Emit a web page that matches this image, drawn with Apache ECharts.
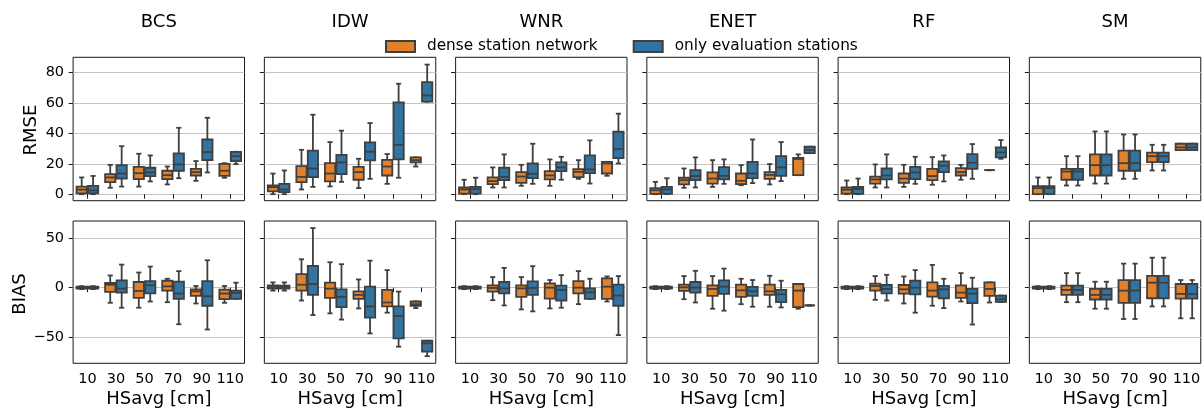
<!DOCTYPE html>
<html>
<head>
<meta charset="utf-8">
<script src="https://cdn.jsdelivr.net/npm/echarts@6/dist/echarts.min.js"></script>
<style>
  html, body { margin: 0; padding: 0; background: #fff; }
  #chart { width: 1202px; height: 410px; }
</style>
</head>
<body>
<div id="chart"></div>
<script>
// Snow-depth classes (HSavg, cm) and interpolation methods
const HS_CLASSES = ['10', '30', '50', '70', '90', '110'];
const METHODS = ['BCS', 'IDW', 'WNR', 'ENET', 'RF', 'SM'];
const RMSE_TICKS = [0, 20, 40, 60, 80];
const BIAS_TICKS = [-50, 0, 50];
const NAME_DENSE = 'dense station network';
const NAME_EVAL = 'only evaluation stations';

// Box statistics per class: [lower whisker, Q1, median, Q3, upper whisker]
const BCS_RMSE_DENSE = [[0, 0.5, 3, 5, 11], [4.2, 7.9, 11, 13.2, 19.3], [5, 9.9, 13.8, 18, 26.6], [6.4, 9.9, 12.5, 15.4, 18.2], [8.8, 12.3, 14.5, 16.7, 21.8], [10.8, 12.1, 15.4, 20, 20.4]];
const BCS_RMSE_EVAL = [[0, 0.5, 2.5, 5.5, 12], [5, 10.3, 13.6, 19.1, 31.6], [8.4, 11.9, 14.3, 17.4, 25.5], [10.5, 15.4, 19.6, 26.8, 43.7], [14.3, 22.4, 27.7, 36, 50.3], [19.8, 21.8, 25, 27.9, 27.9]];
const IDW_RMSE_DENSE = [[0, 1.8, 4.6, 5.7, 13.6], [3.1, 7.9, 11.4, 18.5, 29.2], [5.1, 8.4, 13.6, 20.4, 34.3], [4, 9.5, 14.5, 18, 23.3], [6.8, 12.3, 18.2, 22.6, 26.4], [18.2, 20.9, 22.4, 24.2, 24.2]];
const IDW_RMSE_EVAL = [[0, 1.3, 3.1, 6.8, 15.6], [4.8, 11.2, 16.9, 28.6, 52.3], [8.1, 13.2, 20.9, 25.9, 41.8], [10.1, 22.2, 27.9, 34.1, 46.8], [10.8, 22.9, 32.5, 60.4, 72.7], [60.9, 60.9, 65, 73.8, 85.3]];
const WNR_RMSE_DENSE = [[0, 0.4, 3.1, 4.4, 9.5], [4.4, 6.6, 8.6, 11, 17.6], [5.5, 7.5, 11.6, 14.5, 19.3], [5.5, 9.7, 12.3, 15.2, 22.9], [10.1, 11.2, 14.7, 16.5, 22.4], [12.1, 13.6, 20.2, 21.3, 21.3]];
const WNR_RMSE_EVAL = [[0, 0.4, 3.3, 4.8, 10.8], [4.4, 9.2, 11.4, 17.4, 26.2], [6.8, 10.5, 13.4, 20.2, 33.2], [9.5, 15.2, 17.6, 20.9, 24.6], [7, 13.8, 16.3, 25.5, 35.4], [20.2, 23.7, 29.7, 41.1, 53]];
const ENET_RMSE_DENSE = [[0, 0.2, 2.6, 4, 8.1], [4.2, 6.4, 9.2, 10.8, 16.9], [4.8, 7, 10.3, 14.3, 22.4], [5.9, 6.6, 8.8, 13.6, 19.1], [6.4, 10.1, 12.7, 14.5, 19.8], [12.5, 12.5, 23.2, 23.8, 26.2]];
const ENET_RMSE_EVAL = [[0, 0.2, 3.1, 4.8, 10.5], [4.4, 9.2, 11.9, 15.8, 24.2], [6.8, 9.7, 12.1, 17.8, 22.9], [7.3, 10.5, 13.6, 21.3, 36], [8.6, 12.1, 17.6, 25, 34.3], [27, 27, 29, 31.2, 31.2]];
const RF_RMSE_DENSE = [[0, 0.4, 2.9, 4.4, 9], [4.4, 7, 9.7, 11.6, 19.6], [4.8, 7.5, 10.3, 13.6, 19.3], [6.2, 9.2, 11.9, 16.7, 24.4], [9.5, 12.3, 14.5, 17.1, 19.3], [15.8, 15.8, 15.8, 15.8, 15.8]];
const RF_RMSE_EVAL = [[0, 0.2, 3.5, 4.8, 10.3], [4.4, 9.7, 12.3, 16.9, 26.2], [6.8, 9.9, 14.3, 18, 24.6], [8.4, 14.5, 18.7, 21.5, 25.5], [10.1, 16.7, 20.7, 26.4, 33], [23.3, 24.2, 27.5, 30.8, 35.6]];
const SM_RMSE_DENSE = [[0, 0, 4, 5.3, 11], [5.7, 9.5, 14.9, 16.7, 25], [7, 12.3, 19.1, 26.2, 41.3], [10.1, 15.4, 20.4, 28.6, 39.3], [15.6, 21.1, 25, 27.3, 32.5], [29, 29, 30.8, 33.2, 33.2]];
const SM_RMSE_EVAL = [[0, 0, 4, 5.3, 11], [5.7, 9.5, 14.9, 16.7, 25], [7, 12.3, 19.1, 26.2, 41.3], [10.1, 15.4, 20.4, 28.6, 39.3], [15.6, 21.1, 25, 27.3, 32.5], [29, 29, 30.8, 33.2, 33.2]];

const BCS_BIAS_DENSE = [[-1.5, -1, 0, 1, 1.5], [-15.3, -4.3, 3, 4.7, 12.3], [-20.3, -10.3, -3.3, 5.7, 15.3], [-14.7, -3, 1.3, 7, 9], [-16, -8.3, -3.7, -1.7, 1.7], [-15.3, -11.7, -6, -2, 1.7]];
const BCS_BIAS_EVAL = [[-1.5, -1, 0, 1, 1.5], [-20.3, -5, -1, 7.3, 23.3], [-14, -5.7, 2.3, 6.7, 21.3], [-37, -11.3, -6, 6, 16.7], [-42.3, -18.3, -8.7, 6.7, 27.7], [-11.3, -11.3, -5.3, -3, 5]];
const IDW_BIAS_DENSE = [[-3, -1, 0.7, 2.3, 5.3], [-13, -3, 3, 13.7, 28.7], [-26, -10.3, -1, 5, 25.7], [-21, -11.3, -7.3, -3.7, 8.3], [-25.3, -19, -15, -2.3, 17.7], [-20.7, -18.3, -16.7, -14, -14]];
const IDW_BIAS_EVAL = [[-3, -1, 0.7, 2, 5.3], [-27.7, -7.3, 3.7, 22, 60.3], [-32.3, -19.7, -9.3, -1.7, 23.7], [-46.3, -30.3, -19, 1, 27.3], [-59.7, -51.3, -28.7, -19, -4], [-69.3, -64.7, -56.3, -53.7, -53.7]];
const WNR_BIAS_DENSE = [[-1.5, -1, 0, 1, 1.5], [-12.7, -4, -0.3, 2.3, 10.7], [-22, -9.3, -0.7, 2.3, 10.7], [-21, -11, 0, 4.3, 7.7], [-16.7, -5.7, 0, 6.7, 16.7], [-14, -11.3, 1, 9.3, 11.3]];
const WNR_BIAS_EVAL = [[-1.5, -1, 0, 1, 1.5], [-18, -5.7, -0.7, 5.7, 20], [-24, -7.3, -0.3, 6.3, 21.7], [-20.3, -13, -2.3, 2, 12.7], [-11.3, -11.3, -4.7, -0.7, 9], [-48, -18.3, -8, 3, 11.7]];
const ENET_BIAS_DENSE = [[-1.5, -1, 0, 1, 1.5], [-11.7, -3.3, 0.3, 3, 11.7], [-21.3, -8.3, -1.3, 2.3, 11.7], [-16.7, -9.3, -2.7, 3, 9], [-19.3, -7.3, -3.7, 3, 12], [-21.3, -19.7, -3, 3.7, 3.7]];
const ENET_BIAS_EVAL = [[-1.5, -1, 0, 1, 1.5], [-15, -5, 0, 5.7, 17], [-23.3, -6.3, 1, 7.3, 19.3], [-19.3, -8.3, -3.7, 0.7, 7.7], [-20, -14.7, -6.7, -2.3, 7], [-18, -18, -18, -18, -18]];
const RF_BIAS_DENSE = [[-1.5, -1, 0, 1, 1.5], [-12.3, -3, 1.7, 4, 11.7], [-16, -6, -1.7, 2.7, 11.3], [-18.3, -9, -3, 5.3, 23], [-14, -10.3, -5, 2.3, 14.7], [-15, -8.3, -1.3, 5.3, 5.3]];
const RF_BIAS_EVAL = [[-1.5, -1, 0, 1, 1.5], [-13, -5.7, -1.3, 2.7, 13], [-25.3, -6.7, 0, 7, 17.7], [-20.7, -10.7, -1.7, 1.7, 9], [-37.3, -15.7, -6, -1.3, 10], [-14.3, -14.3, -11.7, -8, -8]];
const SM_BIAS_DENSE = [[-1.5, -1, 0, 1, 1.5], [-14.7, -7.3, -2.3, 2, 14.7], [-21.3, -12, -7.3, -1.3, 6], [-31.7, -15.3, -3, 7.7, 24.3], [-19, -10.7, 5, 12, 30.3], [-31, -11, -6.3, 3.7, 7.7]];
const SM_BIAS_EVAL = [[-1.5, -1, 0, 1, 1.5], [-14.7, -7.3, -2.3, 2, 14.7], [-21.3, -12, -7.3, -1.3, 6], [-31.7, -15.3, -3, 7.7, 24.3], [-19, -10.7, 5, 12, 30.3], [-31, -11, -6.3, 3.7, 7.7]];

// ---- styling / layout ----
const FONT = 'DejaVu Sans';
const ORANGE = '#e1812c';
const BLUE = '#3274a1';
const EDGE = '#3f3f3f';
const LW = 1.8;
const HUE_OFFSET = 0.2;   // box centre offset as fraction of band
const BOX_FRAC = 0.36;    // box width as fraction of band
const PANEL_LEFT0 = 73.1, PANEL_STEP = 191.25, PANEL_W = 171.4;

const ROWS = [
  {
    label: 'RMSE', top: 57.3, height: 143.4, min: -4.3, max: 90.1, ticks: RMSE_TICKS, split: 5,
    labelY: 130, labelX: 31.5,
    sets: [[BCS_RMSE_DENSE, BCS_RMSE_EVAL], [IDW_RMSE_DENSE, IDW_RMSE_EVAL], [WNR_RMSE_DENSE, WNR_RMSE_EVAL],
           [ENET_RMSE_DENSE, ENET_RMSE_EVAL], [RF_RMSE_DENSE, RF_RMSE_EVAL], [SM_RMSE_DENSE, SM_RMSE_EVAL]]
  },
  {
    label: 'BIAS', top: 221, height: 142.3, min: -76.5, max: 67.4, ticks: BIAS_TICKS, split: 3,
    labelY: 294, labelX: 20,
    sets: [[BCS_BIAS_DENSE, BCS_BIAS_EVAL], [IDW_BIAS_DENSE, IDW_BIAS_EVAL], [WNR_BIAS_DENSE, WNR_BIAS_EVAL],
           [ENET_BIAS_DENSE, ENET_BIAS_EVAL], [RF_BIAS_DENSE, RF_BIAS_EVAL], [SM_BIAS_DENSE, SM_BIAS_EVAL]]
  }
];

function fmtTick(v) {
  return v < 0 ? '\u2212' + Math.abs(v) : String(v);
}

// Draws one box-and-whisker glyph for a class, shifted left (dense) or right (eval)
function drawBox(params, api, side, fill) {
  const cat = api.value(0);
  const band = api.size([1, 0])[0];
  const cx = api.coord([cat, 0])[0] + side * band * HUE_OFFSET;
  const w = band * BOX_FRAC;
  const cap = w / 4;
  const y = i => api.coord([cat, api.value(i)])[1];
  const yLo = y(1), yQ1 = y(2), yMed = y(3), yQ3 = y(4), yHi = y(5);
  const line = (x1, y1, x2, y2) => ({
    type: 'line', shape: { x1, y1, x2, y2 },
    style: { stroke: EDGE, lineWidth: LW, lineCap: 'butt' }
  });
  return {
    type: 'group',
    children: [
      line(cx, yQ1, cx, yLo),
      line(cx, yQ3, cx, yHi),
      line(cx - cap, yLo, cx + cap, yLo),
      line(cx - cap, yHi, cx + cap, yHi),
      {
        type: 'rect',
        shape: { x: cx - w / 2, y: yQ3, width: w, height: yQ1 - yQ3 },
        style: { fill: fill, stroke: EDGE, lineWidth: LW }
      },
      line(cx - w / 2, yMed, cx + w / 2, yMed)
    ]
  };
}

const grids = [], xAxes = [], yAxes = [], series = [], graphics = [];

ROWS.forEach((row, r) => {
  METHODS.forEach((method, c) => {
    const idx = r * METHODS.length + c;
    const left = PANEL_LEFT0 + c * PANEL_STEP;
    grids.push({
      left: left, top: row.top, width: PANEL_W, height: row.height,
      show: true, borderColor: '#1a1a1a', borderWidth: 1, backgroundColor: 'transparent',
      containLabel: false, outerBoundsMode: 'none'
    });
    xAxes.push({
      type: 'category', gridIndex: idx, data: HS_CLASSES,
      axisLine: { show: false },
      axisTick: { show: true, alignWithLabel: true, length: 4.5, lineStyle: { color: '#1a1a1a', width: 1 } },
      axisLabel: { show: r === 1, interval: 0, margin: 8, fontFamily: FONT, fontSize: 14.5, color: '#000', hideOverlap: false },
      splitLine: { show: false }
    });
    yAxes.push({
      type: 'value', gridIndex: idx, min: row.min, max: row.max, splitNumber: row.split,
      axisLine: { show: false },
      axisTick: { show: true, length: 4.5, customValues: row.ticks, lineStyle: { color: '#1a1a1a', width: 1 } },
      axisLabel: {
        show: c === 0, margin: 9, customValues: row.ticks, formatter: fmtTick,
        fontFamily: FONT, fontSize: 14.5, color: '#000', hideOverlap: false
      },
      splitLine: { show: true, lineStyle: { color: '#c4c4c4', width: 1.2 } }
    });
    const [dense, evalOnly] = row.sets[c];
    series.push({
      type: 'custom', name: NAME_DENSE, xAxisIndex: idx, yAxisIndex: idx,
      itemStyle: { color: ORANGE, borderColor: EDGE, borderWidth: 1.2 },
      renderItem: (p, api) => drawBox(p, api, -1, ORANGE),
      encode: { x: 0, y: [1, 2, 3, 4, 5] },
      data: dense.map((v, i) => [i].concat(v)),
      silent: true
    });
    series.push({
      type: 'custom', name: NAME_EVAL, xAxisIndex: idx, yAxisIndex: idx,
      itemStyle: { color: BLUE, borderColor: EDGE, borderWidth: 1.2 },
      renderItem: (p, api) => drawBox(p, api, 1, BLUE),
      encode: { x: 0, y: [1, 2, 3, 4, 5] },
      data: evalOnly.map((v, i) => [i].concat(v)),
      silent: true
    });

    const cx = left + PANEL_W / 2;
    if (r === 0) {
      graphics.push({
        type: 'text', x: cx, y: 22,
        style: { text: method, fontFamily: FONT, fontSize: 18, fill: '#000', textAlign: 'center', textVerticalAlign: 'middle' }
      });
    } else {
      graphics.push({
        type: 'text', x: cx, y: 399,
        style: { text: 'HSavg [cm]', fontFamily: FONT, fontSize: 18, fill: '#000', textAlign: 'center', textVerticalAlign: 'middle' }
      });
    }
  });
  graphics.push({
    type: 'text', x: row.labelX, y: row.labelY, rotation: Math.PI / 2,
    style: { text: row.label, fontFamily: FONT, fontSize: 18, fill: '#000', textAlign: 'center', textVerticalAlign: 'middle' }
  });
});

const chart = echarts.init(document.getElementById('chart'), null, { renderer: 'canvas' });
chart.setOption({
  animation: false,
  backgroundColor: '#fff',
  legend: {
    data: [NAME_DENSE, NAME_EVAL],
    left: 385, top: 39, padding: 0,
    itemWidth: 29, itemHeight: 11, itemGap: 35,
    icon: 'rect', selectedMode: false,
    textStyle: { fontFamily: FONT, fontSize: 15.3, color: '#000', padding: [0, 0, 0, 7] }
  },
  grid: grids,
  xAxis: xAxes,
  yAxis: yAxes,
  series: series,
  graphic: graphics
});
</script>
</body>
</html>
